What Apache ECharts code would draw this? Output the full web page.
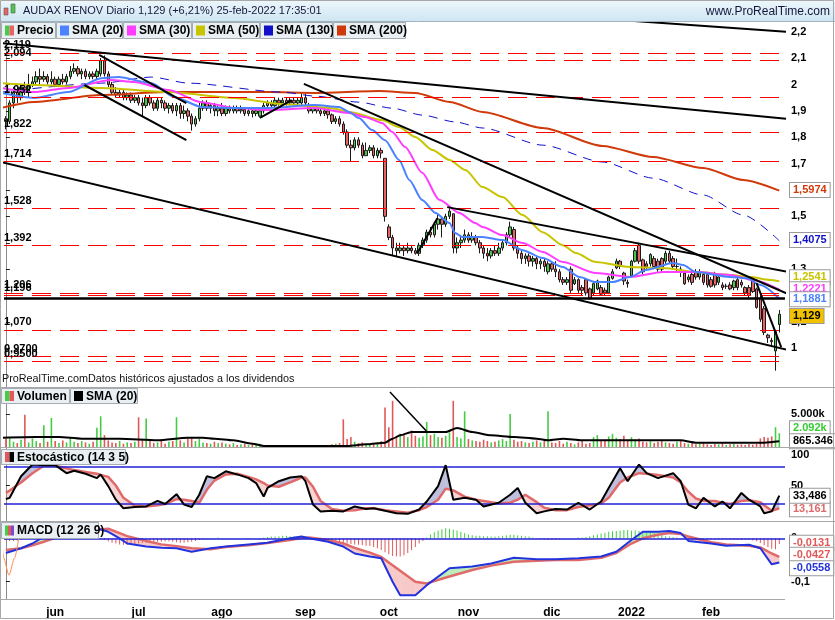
<!DOCTYPE html>
<html><head><meta charset="utf-8">
<script src="https://cdn.jsdelivr.net/npm/echarts@6/dist/echarts.min.js"></script>
<style>html,body{margin:0;padding:0;background:#fff}#c{width:835px;height:620px}</style>
</head><body><div id="c"></div>
<script>
// ---------------- DATA ----------------
const START_DATE = '2021-05-13', END_DATE = '2022-02-25';
const HOLIDAYS = ['2021-12-24', '2021-12-31'];
const MONTHS = ['ene','feb','mar','abr','may','jun','jul','ago','sep','oct','nov','dic'];

const opens = [
1.87,1.86,1.93,1.97,1.95,1.99,1.97,2.00,2.01,2.03,
2.02,2.03,2.01,2.02,2.00,2.02,2.01,2.03,2.05,2.06,
2.04,2.05,2.03,2.04,2.03,2.04,2.09,2.04,2.00,1.97,
1.96,1.97,1.95,1.96,1.94,1.95,1.93,1.92,1.95,1.93,
1.91,1.94,1.93,1.91,1.92,1.90,1.92,1.89,1.90,1.88,
1.85,1.87,1.91,1.93,1.91,1.92,1.90,1.91,1.89,1.91,
1.90,1.91,1.90,1.905,1.89,1.90,1.89,1.88,1.90,1.92,
1.93,1.92,1.94,1.93,1.94,1.93,1.94,1.93,1.93,1.95,
1.92,1.90,1.91,1.90,1.89,1.90,1.885,1.86,1.87,1.85,
1.82,1.77,1.76,1.79,1.77,1.73,1.75,1.76,1.73,1.75,
1.72,1.46,1.42,1.38,1.37,1.38,1.37,1.38,1.37,1.36,
1.39,1.41,1.44,1.43,1.47,1.49,1.47,1.50,1.51,1.38,
1.40,1.41,1.43,1.41,1.42,1.40,1.38,1.36,1.35,1.37,
1.36,1.38,1.40,1.43,1.45,1.38,1.36,1.34,1.35,1.33,
1.34,1.32,1.33,1.29,1.32,1.30,1.29,1.26,1.25,1.30,
1.245,1.26,1.23,1.26,1.225,1.21,1.225,1.23,1.22,1.21,
1.265,1.305,1.33,1.285,1.25,1.275,1.33,1.39,1.335,1.32,
1.32,1.34,1.33,1.34,1.33,1.36,1.34,1.31,1.30,1.285,
1.26,1.28,1.29,1.27,1.28,1.28,1.26,1.28,1.25,1.24,
1.235,1.24,1.23,1.26,1.25,1.23,1.23,1.255,1.225,1.19,
1.15,1.05,1.03,0.99,1.09];
const closes = [
1.86,1.93,1.97,1.95,1.99,1.97,2.00,2.01,2.03,2.02,
2.03,2.01,2.02,2.00,2.02,2.01,2.03,2.05,2.06,2.04,
2.05,2.03,2.04,2.03,2.05,2.09,2.04,2.00,1.97,1.96,
1.97,1.95,1.96,1.94,1.95,1.93,1.92,1.95,1.93,1.91,
1.94,1.93,1.91,1.92,1.90,1.92,1.89,1.90,1.88,1.85,
1.87,1.91,1.93,1.91,1.92,1.90,1.91,1.89,1.91,1.90,
1.91,1.90,1.905,1.89,1.90,1.89,1.90,1.90,1.92,1.93,
1.92,1.94,1.93,1.94,1.93,1.94,1.93,1.94,1.95,1.93,
1.90,1.91,1.90,1.89,1.90,1.885,1.86,1.87,1.85,1.82,
1.77,1.76,1.79,1.77,1.73,1.75,1.76,1.73,1.75,1.74,
1.50,1.42,1.38,1.37,1.38,1.37,1.38,1.37,1.36,1.39,
1.41,1.44,1.43,1.47,1.49,1.47,1.50,1.52,1.38,1.40,
1.41,1.43,1.41,1.42,1.40,1.38,1.36,1.35,1.37,1.36,
1.38,1.40,1.43,1.46,1.38,1.36,1.34,1.35,1.33,1.34,
1.32,1.33,1.31,1.32,1.30,1.29,1.26,1.25,1.26,1.22,
1.26,1.22,1.22,1.21,1.19,1.245,1.255,1.205,1.21,1.27,
1.29,1.33,1.31,1.255,1.245,1.33,1.37,1.33,1.29,1.31,
1.355,1.31,1.30,1.30,1.36,1.33,1.31,1.31,1.29,1.245,
1.27,1.25,1.27,1.29,1.25,1.24,1.235,1.24,1.27,1.23,
1.235,1.225,1.255,1.23,1.24,1.21,1.20,1.215,1.155,1.11,
1.06,1.04,1.025,1.063,1.129];
const lows = [
1.83,1.85,1.91,1.93,1.94,1.96,1.95,1.99,2.00,2.00,
2.01,2.00,2.00,1.99,1.99,2.00,2.00,2.02,2.04,2.03,
2.02,2.02,2.02,2.02,2.02,2.03,2.03,1.99,1.96,1.95,
1.95,1.94,1.94,1.93,1.93,1.92,1.88,1.91,1.92,1.90,
1.90,1.91,1.90,1.89,1.89,1.88,1.87,1.87,1.86,1.825,
1.84,1.86,1.90,1.90,1.89,1.88,1.88,1.88,1.88,1.89,
1.89,1.89,1.89,1.88,1.88,1.875,1.88,1.875,1.89,1.91,
1.91,1.91,1.92,1.92,1.92,1.92,1.92,1.92,1.92,1.92,
1.89,1.89,1.89,1.88,1.88,1.87,1.85,1.85,1.84,1.81,
1.76,1.71,1.75,1.76,1.72,1.73,1.74,1.72,1.72,1.72,
1.48,1.41,1.35,1.35,1.36,1.35,1.36,1.36,1.355,1.35,
1.38,1.40,1.42,1.42,1.45,1.42,1.46,1.49,1.36,1.36,
1.38,1.40,1.40,1.40,1.39,1.36,1.34,1.33,1.34,1.35,
1.35,1.37,1.39,1.42,1.37,1.34,1.32,1.32,1.31,1.31,
1.30,1.30,1.29,1.28,1.29,1.27,1.25,1.24,1.24,1.21,
1.24,1.21,1.20,1.20,1.185,1.20,1.22,1.20,1.20,1.205,
1.26,1.30,1.30,1.24,1.23,1.27,1.325,1.32,1.28,1.30,
1.31,1.30,1.29,1.29,1.32,1.32,1.30,1.29,1.27,1.24,
1.25,1.24,1.26,1.26,1.24,1.23,1.23,1.23,1.24,1.22,
1.225,1.22,1.22,1.22,1.23,1.20,1.19,1.21,1.15,1.10,
1.05,1.02,1.01,0.915,1.06];
const highs = [
1.88,1.94,1.99,1.99,2.00,2.01,2.04,2.03,2.05,2.06,
2.05,2.04,2.05,2.03,2.03,2.04,2.04,2.07,2.08,2.07,
2.06,2.06,2.05,2.05,2.06,2.10,2.11,2.05,2.01,1.99,
1.98,1.98,1.97,1.97,1.96,1.96,1.95,1.96,1.96,1.94,
1.95,1.95,1.94,1.93,1.93,1.93,1.93,1.92,1.91,1.89,
1.88,1.93,1.94,1.94,1.93,1.93,1.92,1.93,1.92,1.92,
1.92,1.92,1.92,1.91,1.91,1.91,1.91,1.91,1.93,1.94,
1.94,1.95,1.95,1.95,1.95,1.95,1.95,1.95,1.97,1.965,
1.93,1.92,1.92,1.91,1.91,1.91,1.89,1.88,1.88,1.86,
1.83,1.79,1.80,1.80,1.78,1.78,1.77,1.77,1.76,1.76,
1.72,1.47,1.43,1.40,1.40,1.39,1.40,1.39,1.38,1.40,
1.42,1.45,1.46,1.48,1.51,1.50,1.51,1.53,1.51,1.42,
1.43,1.45,1.44,1.44,1.43,1.41,1.39,1.38,1.38,1.39,
1.40,1.41,1.44,1.48,1.46,1.39,1.37,1.36,1.36,1.35,
1.35,1.34,1.34,1.33,1.33,1.33,1.30,1.27,1.27,1.31,
1.27,1.265,1.24,1.265,1.23,1.25,1.26,1.24,1.23,1.275,
1.30,1.34,1.335,1.29,1.26,1.335,1.38,1.40,1.34,1.33,
1.36,1.35,1.34,1.345,1.37,1.37,1.35,1.34,1.31,1.29,
1.28,1.29,1.30,1.30,1.29,1.29,1.27,1.29,1.28,1.25,
1.245,1.25,1.26,1.27,1.26,1.235,1.24,1.26,1.23,1.20,
1.16,1.055,1.04,1.07,1.145];

// volume in thousands
const volumes = [
1200,1500,800,600,1100,4900,700,1300,900,600,3300,800,4400,
900,600,1000,700,1500,800,600,900,700,500,800,2900,4650,
1800,1000,700,600,900,500,700,600,800,
4500,1200,4300,900,600,700,1100,500,800,900,4500,1000,700,1300,1500,
900,1200,700,600,500,800,600,700,500,400,600,300,400,500,300,400,300,500,
200,300,150,200,150,300,200,150,200,150,250,300,200,150,250,200,150,300,400,500,600,
4200,1200,1500,800,600,700,500,400,600,700,900,
6000,3000,7000,1500,2000,1800,1500,2500,1700,1400,1600,
3800,1800,2000,1500,1400,1700,2200,7000,1500,1300,5400,
1200,1000,900,800,1100,900,700,800,1000,1200,900,5000,1100,800,900,700,600,800,1000,700,900,5400,
700,600,900,500,800,600,400,700,900,500,600,1500,1800,900,1100,1600,2000,1400,1200,1700,900,
1500,1100,1300,800,700,900,600,800,1000,700,
600,500,800,900,600,500,700,400,500,600,
400,300,500,400,600,300,400,500,350,400,
300,450,350,500,
1300,1500,1400,1600,3000,2092];
const volumeSma = [[-1,1414],[8,1515],[14,1515],[20,1262],[30,1262],[40,1010],[48,1414],[52,1414],[55,1262],[60,1010],[65,505],[68,152],[90,152],[95,400],[100,656],[102,1262],[104,1767],[107,2272],[116,2272],[119,2878],[123,2272],[128,1767],[134,1515],[140,1262],[143,1010],[147,1262],[152,1010],[178,1010],[182,656],[200,656],[204,865]];

// moving averages: [day index, value]
const sma20 = [[-1.3,1.968],[7.4,1.949],[16.4,1.971],[25.2,2.024],[29.7,2.028],[38.4,2.005],[44.5,1.952],[51.6,1.915],[60.3,1.911],[69.3,1.911],[81.5,1.922],[87.9,1.915],[90.5,1.896],[93.1,1.873],[96.6,1.827],[100,1.789],[103.7,1.714],[106.4,1.638],[109.8,1.562],[113.3,1.513],[117,1.475],[118.5,1.437],[120.4,1.422],[125.7,1.422],[131,1.41],[136.3,1.372],[141.6,1.342],[146.9,1.308],[151.3,1.27],[155.6,1.251],[160.1,1.251],[164.6,1.27],[168.8,1.297],[176,1.323],[178.6,1.316],[182,1.289],[191,1.27],[195.3,1.266],[199,1.24],[204,1.1881]];
const sma30 = [[-1.3,1.987],[7.4,1.971],[16.4,1.987],[27.8,2.017],[33.9,2.009],[42.9,1.979],[51.6,1.933],[60.3,1.911],[69.3,1.903],[81.5,1.911],[90.5,1.892],[94.7,1.877],[99.2,1.854],[101.9,1.82],[105.3,1.763],[109.8,1.665],[114.3,1.563],[119.6,1.513],[123.8,1.475],[125.7,1.46],[131,1.429],[136.3,1.399],[141.6,1.365],[146.9,1.327],[155.6,1.285],[164.6,1.27],[173.3,1.289],[182,1.289],[191,1.278],[197.1,1.259],[204,1.2221]];
const sma50 = [[-1.3,2.005],[7.4,1.998],[25.2,1.987],[42.9,1.971],[60.3,1.949],[72.8,1.926],[86,1.91],[90.5,1.896],[99.2,1.865],[103.7,1.839],[108,1.801],[112.5,1.752],[117,1.714],[121.2,1.676],[125.7,1.611],[131,1.573],[136.3,1.505],[141.6,1.44],[146.9,1.391],[150.3,1.361],[155.6,1.327],[164.6,1.308],[173.3,1.304],[182,1.289],[191,1.278],[196.3,1.27],[201.6,1.259],[204,1.2541]];
const sma130 = [[-1.3,1.971],[25.2,2.005],[38.4,2.028],[48.2,2.005],[72.8,1.971],[81.5,1.956],[93.1,1.933],[101.9,1.91],[109.8,1.884],[118.5,1.858],[125.7,1.835],[141.6,1.77],[157.4,1.706],[170.7,1.645],[183.9,1.581],[194.5,1.505],[204,1.4075]];
const sma200 = [[-1.3,1.911],[7.4,1.934],[25.2,1.96],[42.9,1.971],[69.3,1.971],[81.5,1.968],[98.4,1.975],[108,1.968],[117,1.934],[125.7,1.896],[141.6,1.835],[157.4,1.767],[170.7,1.725],[183.9,1.683],[194.5,1.638],[204,1.5974]];

// horizontal levels (red dashed) and their labels
const levels = [2.119, 2.094, 1.952, 1.822, 1.714, 1.528, 1.392, 1.206, 1.196, 1.070, 0.9700, 0.9500];
const levelLabels = ['2,119','2,094','1,952','1,822','1,714','1,528','1,392','1,206','1,196','1,070','0,9700','0,9500'];
const supportLevel = 1.188;

// drawn trend lines: [[day index, price],[day index, price]]
const trendLines = [
  [[-1.3,2.157],[206.4,1.869]],
  [[157.4,2.249],[206.4,2.199]],
  [[-1.3,1.706],[206.4,0.993]],
  [[78.6,2.002],[206.4,1.205]],
  [[116.4,1.535],[206.4,1.289]],
  [[24.6,2.112],[47.6,1.929]],
  [[20.7,1.998],[47.6,1.789]],
  [[67,1.873],[75.4,1.941]],
  [[108.5,1.36],[113.8,1.493]],
  [[198,1.247],[204.5,1.004]]
];
const volumeTrend = [[101.3,8333],[110.9,2424]];

// Stochastic (14 3 5)
const stochIdx = [0,1,4,7,10,13,16,18,21,24,25,27,29,31,34,37,40,42,45,47,49,51,53,55,58,61,64,66,68,69,72,75,78,79,81,83,86,89,92,95,97,100,103,106,109,111,114,116,118,121,124,126,130,133,135,137,140,142,145,148,151,154,157,159,162,164,167,169,172,176,178,180,182,184,187,189,191,194,196,199,200,202,204];
const stochK = [28,30,65,84,83,83,70,74,69,62,68,49,27,13,15,16,25,20,36,19,15,35,65,62,73,68,62,54,32,46,57,63,65,57,19,8,9,8,16,12,13,9,5,4,11,24,49,83,27,30,27,16,22,35,46,22,5,8,12,11,22,11,24,46,78,57,84,70,62,70,57,19,13,30,16,24,13,38,27,16,5,8,33.486];
const stochD = [38,42,55,70,82,82,78,75,72,69,67,64,50,30,17,16,18,20,28,27,25,22,43,58,68,69,64,60,54,50,48,55,63,63,48,25,12,9,10,13,13,10,8,6,10,15,27,45,42,32,27,25,21,22,27,35,23,14,10,10,15,18,21,30,55,63,70,69,67,63,55,40,29,25,25,22,20,25,26,23,18,9,13.161];

// MACD (12 26 9)
const macdIdx = [0,4,7,10,13,18,24,27,30,32,37,41,45,49,54,58,64,69,75,78,80,85,89,92,96,99,102,104,108,111,117,123,128,134,140,145,151,157,161,165,168,172,175,178,180,186,190,196,199,202,204];
const macdLine = [-0.034,-0.023,-0.012,0.004,0.012,0.019,0.023,0.015,0.0,-0.012,-0.019,-0.022,-0.023,-0.031,-0.023,-0.019,-0.014,-0.010,0.0,0.004,0.0,-0.008,-0.019,-0.035,-0.042,-0.046,-0.100,-0.131,-0.131,-0.108,-0.069,-0.065,-0.058,-0.045,-0.048,-0.048,-0.046,-0.042,-0.031,-0.004,0.015,0.015,0.017,0.012,-0.006,-0.012,-0.017,-0.015,-0.023,-0.060,-0.0558];
const macdSignal = [-0.027,-0.023,-0.016,-0.008,0.001,0.013,0.020,0.022,0.012,0.005,-0.006,-0.014,-0.018,-0.023,-0.025,-0.020,-0.016,-0.011,-0.004,0.001,0.002,-0.004,-0.012,-0.022,-0.033,-0.043,-0.062,-0.075,-0.100,-0.104,-0.088,-0.073,-0.063,-0.054,-0.052,-0.050,-0.050,-0.045,-0.034,-0.012,0.000,0.008,0.012,0.010,0.004,-0.009,-0.014,-0.017,-0.021,-0.035,-0.0427];
const macdHist = [
-0.004,-0.006,-0.006,-0.005,-0.003,-0.001,
0.002,0.004,0.006,0.008,0.010,0.011,0.011,0.010,0.009,0.008,0.007,0.006,0.005,0.005,0.004,0.003,0.002,0.001,0.000,-0.002,
-0.004,-0.007,-0.010,-0.012,-0.014,-0.015,-0.015,-0.014,-0.013,-0.012,-0.011,-0.010,-0.009,-0.009,-0.008,-0.008,-0.007,-0.007,-0.008,-0.009,-0.010,-0.010,-0.009,-0.008,
-0.006,-0.004,-0.002,0.000,0.001,0.001,0.002,0.001,0.001,0.001,0.001,0.000,0.000,0.001,0.001,0.000,0.000,0.001,0.002,
0.003,0.004,0.004,0.005,0.006,0.006,0.005,0.005,0.004,0.003,0.001,
-0.001,-0.003,-0.004,-0.005,-0.006,-0.007,-0.008,-0.009,-0.010,-0.011,-0.012,-0.013,-0.014,-0.015,-0.016,-0.017,-0.018,
-0.020,-0.023,-0.027,-0.032,-0.037,-0.041,-0.042,-0.042,-0.039,-0.034,-0.027,-0.020,-0.012,-0.006,
0.002,0.009,0.014,0.018,0.021,0.023,0.022,0.020,0.018,0.015,0.012,0.009,
0.007,0.006,0.006,0.005,0.005,0.004,0.004,0.005,0.006,0.007,0.008,0.008,0.007,0.006,0.005,0.004,0.002,
-0.001,-0.002,-0.003,-0.004,-0.004,-0.003,-0.002,-0.001,0.000,0.001,0.001,0.002,0.002,0.003,
0.005,0.007,0.009,0.011,0.013,0.015,0.016,0.017,0.018,0.019,0.019,0.018,0.018,0.017,0.017,0.016,0.014,0.012,0.010,0.007,
0.005,0.004,0.003,0.002,0.001,0.000,
-0.002,-0.003,-0.003,-0.004,-0.004,-0.004,-0.003,-0.003,-0.003,-0.002,-0.002,-0.002,-0.003,-0.003,-0.004,-0.003,-0.003,-0.005,
-0.007,-0.011,-0.016,-0.020,-0.024,-0.025,-0.0131];
const macdArc = [[-1.3,0.012],[-0.6,-0.045],[0.8,-0.085],[2.3,-0.045],[3.6,0.012]];

// ---------------- BUILD ----------------
const FONT = 'Liberation Sans, Arial, sans-serif';
function buildDates() {
  const out = []; const d = new Date(START_DATE + 'T00:00:00Z'); const end = new Date(END_DATE + 'T00:00:00Z');
  while (d <= end) {
    const wd = d.getUTCDay(); const s = d.toISOString().slice(0, 10);
    if (wd !== 0 && wd !== 6 && HOLIDAYS.indexOf(s) < 0) out.push(s);
    d.setUTCDate(d.getUTCDate() + 1);
  }
  return out;
}
const dates = buildDates();
const NCAT = dates.length + 1;
const cats = dates.concat(['x1']);
const XMIN = -0.5, XMAX = NCAT - 0.5;

const PMIN = 0.8532, PMAX = 2.2368;
const GL = 4, GW = 781;
const GRID = [
  {left: GL, top: 22, width: GW, height: 365},
  {left: GL, top: 388, width: GW, height: 59},
  {left: GL, top: 447, width: GW, height: 74},
  {left: GL, top: 521, width: GW, height: 78}
];
const UP = '#4CC94C', DOWN = '#E86464';

const candleData = opens.map((o, i) => [o, closes[i], lows[i], highs[i]]);
const volData = volumes.map((v, i) => ({value: v, itemStyle: {color: closes[i] >= opens[i] ? '#44CC44' : '#E05858'}}));
const histData = macdHist.map(v => ({value: v, itemStyle: {color: v >= 0 ? '#44CC44' : '#E05858'}}));

function monthLabel(s) {
  const y = s.slice(0, 4), m = +s.slice(5, 7);
  return m === 1 ? y : MONTHS[m - 1];
}
function isMonthStart(i) {
  if (i <= 0 || i >= dates.length) return false;
  return dates[i].slice(5, 7) !== dates[i - 1].slice(5, 7);
}

function box(value, text, color, bg, dy) {
  return {yAxis: value, lineStyle: {color: 'rgba(0,0,0,0)', width: 0.01},
    label: {show: true, position: 'end', formatter: text, color: color, backgroundColor: bg || '#fff',
      borderColor: '#9a9a9a', borderWidth: 1, padding: [2, 3, 1, 3], fontWeight: 'bold', fontSize: 11,
      fontFamily: FONT, distance: 5, offset: [0, dy || 0]}};
}
function boxesMarkLine(items) {
  return {silent: true, symbol: ['none', 'none'], animation: false, data: items};
}
function line(name, data, color, width, type, xi, yi, z, smooth) {
  return {type: 'line', name, xAxisIndex: xi, yAxisIndex: yi, data, symbol: 'none', showSymbol: false,
    smooth: smooth ? 0.25 : false, smoothMonotone: 'x', lineStyle: {color, width, type: type || 'solid'},
    z: z || 3, silent: true, animation: false, clip: true};
}
function fillSeries(xi, yi, idx, A, B, upColor, downColor) {
  const segs = [];
  for (let j = 0; j < idx.length - 1; j++) segs.push([j]);
  return {type: 'custom', xAxisIndex: xi, yAxisIndex: yi, silent: true, z: 2, clip: true, animation: false,
    data: segs, encode: {x: -1, y: -1},
    renderItem(params, api) {
      const j = segs[params.dataIndex][0];
      const x0 = idx[j], x1 = idx[j + 1], a0 = A[j], a1 = A[j + 1], b0 = B[j], b1 = B[j + 1];
      const d0 = a0 - b0, d1 = a1 - b1;
      const ch = [];
      const poly = (pts, c) => ch.push({type: 'polygon', shape: {points: pts.map(p => api.coord(p))}, style: {fill: c}});
      if (d0 * d1 >= 0) {
        poly([[x0, a0], [x1, a1], [x1, b1], [x0, b0]], (d0 + d1) >= 0 ? upColor : downColor);
      } else {
        const t = d0 / (d0 - d1), xc = x0 + t * (x1 - x0), yc = a0 + t * (a1 - a0);
        poly([[x0, a0], [xc, yc], [x0, b0]], d0 > 0 ? upColor : downColor);
        poly([[xc, yc], [x1, a1], [x1, b1]], d1 > 0 ? upColor : downColor);
      }
      return {type: 'group', children: ch};
    }};
}

const xAxes = [];
for (let g = 0; g < 4; g++) {
  xAxes.push({type: 'category', gridIndex: g, data: cats, boundaryGap: true,
    axisLine: {show: false}, axisTick: {show: false}, splitLine: {show: false},
    axisLabel: g === 3 ? {show: true, interval: (i) => isMonthStart(i), formatter: (v) => monthLabel(v),
      color: '#000', fontWeight: 'bold', fontSize: 12, fontFamily: FONT, margin: 8} : {show: false}});
}
for (let g = 0; g < 4; g++) {
  xAxes.push({type: 'value', gridIndex: g, min: XMIN, max: XMAX, show: false});
}
const axisCommon = {position: 'right', axisLine: {show: true, lineStyle: {color: '#8c8c8c', width: 1}},
  splitLine: {show: false}};
const labelStyle = {color: '#000', fontWeight: 'bold', fontSize: 11, fontFamily: FONT, margin: 6};
const priceTicks = [1, 1.1, 1.2, 1.3, 1.4, 1.5, 1.6, 1.7, 1.8, 1.9, 2, 2.1, 2.2];
const yAxes = [
  Object.assign({type: 'value', gridIndex: 0, min: PMIN, max: PMAX,
    axisTick: {show: true, length: 4, lineStyle: {color: '#222'}, customValues: priceTicks},
    axisLabel: Object.assign({customValues: priceTicks, formatter: v => String(Math.round(v * 10) / 10).replace('.', ',')}, labelStyle)}, axisCommon),
  Object.assign({type: 'value', gridIndex: 1, min: 0, max: 8939,
    axisTick: {show: true, length: 4, lineStyle: {color: '#222'}, customValues: [5000]},
    axisLabel: Object.assign({customValues: [5000], formatter: () => '5.000k'}, labelStyle)}, axisCommon),
  Object.assign({type: 'value', gridIndex: 2, min: -7.6, max: 112.5,
    axisTick: {show: true, length: 4, lineStyle: {color: '#222'}, customValues: [50, 100]},
    axisLabel: Object.assign({customValues: [50, 100]}, labelStyle)}, axisCommon),
  Object.assign({type: 'value', gridIndex: 3, min: -0.1399, max: 0.0399,
    axisTick: {show: true, length: 4, lineStyle: {color: '#222'}, customValues: [-0.1, 0]},
    axisLabel: Object.assign({customValues: [-0.1, 0], formatter: v => (v === 0 ? '0' : String(v).replace('.', ','))}, labelStyle)}, axisCommon)
];

const levelLines = levels.map((v, k) => ({yAxis: v,
  label: {show: true, position: 'insideStartTop', formatter: levelLabels[k], color: '#000', fontWeight: 'bold',
    fontSize: 11, fontFamily: FONT, distance: [0, 2]}}));

const series = [];
series.push({type: 'candlestick', name: 'Precio', xAxisIndex: 0, yAxisIndex: 0, data: candleData, barWidth: 3, z: 2,
  itemStyle: {color: UP, color0: DOWN, borderColor: '#1a1a1a', borderColor0: '#1a1a1a', borderWidth: 1},
  silent: true, animation: false,
  markLine: {silent: true, symbol: ['none', 'none'], animation: false,
    lineStyle: {color: '#FF0000', width: 1, type: [19, 9]},
    data: levelLines.concat([{yAxis: supportLevel, label: {show: false}, lineStyle: {color: '#000', width: 2.5, type: 'solid'}}])}});
trendLines.forEach((t, k) => series.push(line('t' + k, t, '#000', 2, 'solid', 4, 0, 5)));
series.push(Object.assign(line('SMA (200)', sma200, '#D03A0A', 2, 'solid', 4, 0, 4, true),
  {markLine: boxesMarkLine([box(1.5974, '1,5974', '#D03A0A')])}));
series.push(Object.assign(line('SMA (130)', sma130, '#1010C8', 1, [9, 7], 4, 0, 4, true),
  {markLine: boxesMarkLine([box(1.4075, '1,4075', '#1010C8')])}));
series.push(Object.assign(line('SMA (50)', sma50, '#C8C400', 2, 'solid', 4, 0, 4, true),
  {markLine: boxesMarkLine([box(1.2541, '1,2541', '#C8C400', '#fff', -5)])}));
series.push(Object.assign(line('SMA (30)', sma30, '#FF3CFF', 2, 'solid', 4, 0, 4.3, true),
  {markLine: boxesMarkLine([box(1.2221, '1,2221', '#FF3CFF', '#fff', -1)])}));
series.push(Object.assign(line('SMA (20)', sma20, '#4B82FF', 2, 'solid', 4, 0, 4.6, true),
  {markLine: boxesMarkLine([box(1.1881, '1,1881', '#4B82FF', '#fff', 1), box(1.129, '1,129', '#000', '#F2C200', 2)])}));

// volume
series.push({type: 'bar', name: 'Volumen', xAxisIndex: 1, yAxisIndex: 1, data: volData, barWidth: 1.6, silent: true, animation: false, z: 2});
series.push(Object.assign(line('vsma', volumeSma, '#000', 2, 'solid', 5, 1, 4, true),
  {markLine: boxesMarkLine([box(2092, '2.092k', '#33CC33', '#fff', -5), box(865.346, '865.346', '#000', '#fff', 0)])}));
series.push(line('vtrend', volumeTrend, '#000', 1.5, 'solid', 5, 1, 5));

// stochastic
series.push(fillSeries(6, 2, stochIdx, stochK, stochD, 'rgba(110,110,180,0.45)', 'rgba(235,130,130,0.35)'));
series.push(Object.assign(line('stD', stochIdx.map((x, j) => [x, stochD[j]]), '#E06A6A', 2.5, 'solid', 6, 2, 4, false),
  {markLine: boxesMarkLine([box(13.161, '13,161', '#E06A6A', '#fff', 1)])}));
series.push(Object.assign(line('stK', stochIdx.map((x, j) => [x, stochK[j]]), '#000', 2, 'solid', 6, 2, 5, false),
  {markLine: {silent: true, symbol: ['none', 'none'], animation: false,
    data: [{yAxis: 80, lineStyle: {color: '#2020D8', width: 1.5, type: 'solid'}, label: {show: false}},
           {yAxis: 20, lineStyle: {color: '#2020D8', width: 1.5, type: 'solid'}, label: {show: false}},
           box(33.486, '33,486', '#000', '#fff', 0)]}}));

// MACD
series.push({type: 'bar', name: 'hist', xAxisIndex: 3, yAxisIndex: 3, data: histData, barWidth: 1, silent: true, animation: false, z: 1,
  markLine: {silent: true, symbol: ['none', 'none'], animation: false,
    data: [{yAxis: 0, lineStyle: {color: '#2020D8', width: 1.5, type: 'solid'}, label: {show: false}},
           box(-0.0131, '-0,0131', '#E05858', '#fff', 0)]}});
series.push(fillSeries(7, 3, macdIdx, macdLine, macdSignal, 'rgba(120,220,120,0.5)', 'rgba(235,120,120,0.4)'));
series.push(Object.assign(line('signal', macdIdx.map((x, j) => [x, macdSignal[j]]), '#E06A6A', 2.5, 'solid', 7, 3, 4, false),
  {markLine: boxesMarkLine([box(-0.0427, '-0,0427', '#E05858', '#fff', -1)])}));
series.push(Object.assign(line('macd', macdIdx.map((x, j) => [x, macdLine[j]]), '#2233DD', 2, 'solid', 7, 3, 5, false),
  {markLine: boxesMarkLine([box(-0.0558, '-0,0558', '#2233DD', '#fff', 4)])}));
series.push(line('arc', macdArc, '#FF8C50', 1, 'solid', 7, 3, 5, true));

// ---------------- DECOR ----------------
function legendBox(x, w, y, h, label, colors) {
  const els = [{type: 'rect', shape: {x: x + 0.5, y: y + 0.5, width: w, height: h}, style: {fill: '#e9eff3', stroke: '#a4adb3', lineWidth: 1}}];
  const iw = 9, cw = iw / colors.length;
  colors.forEach((c, k) => els.push({type: 'rect', shape: {x: x + 4 + k * cw, y: y + (h - 10) / 2 + 0.5, width: cw, height: 10}, style: {fill: c}}));
  els.push({type: 'text', x: x + 16, y: y + h / 2 + 1, style: {text: label, fill: '#000', font: 'bold 12px ' + FONT, textVerticalAlign: 'middle'}});
  return els;
}
const graphics = [
  {type: 'rect', shape: {x: 0, y: 0, width: 835, height: 21},
    style: {fill: new echarts.graphic.LinearGradient(0, 0, 0, 1, [{offset: 0, color: '#edf7fc'}, {offset: 1, color: '#cfe6f2'}])}},
  {type: 'line', shape: {x1: 0, y1: 21.5, x2: 835, y2: 21.5}, style: {stroke: '#9fb3c0', lineWidth: 1}},
  {type: 'rect', shape: {x: 4, y: 8, width: 4, height: 7}, style: {fill: '#E86464', stroke: '#555', lineWidth: 0.6}},
  {type: 'rect', shape: {x: 11, y: 4, width: 4, height: 9}, style: {fill: '#4CC94C', stroke: '#555', lineWidth: 0.6}},
  {type: 'text', x: 23, y: 11, style: {text: 'AUDAX RENOV Diario 1,129 (+6,21%) 25-feb-2022 17:35:01', fill: '#16163c', font: '11px ' + FONT, textVerticalAlign: 'middle'}},
  {type: 'text', x: 830, y: 12, style: {text: 'www.ProRealTime.com', fill: '#16163c', font: '12px ' + FONT, textAlign: 'right', textVerticalAlign: 'middle'}},
  {type: 'text', x: 2, y: 379, style: {text: 'ProRealTime.comDatos históricos ajustados a los dividendos', fill: '#111', font: '10.8px ' + FONT, textVerticalAlign: 'middle'}},
  {type: 'line', shape: {x1: 0, y1: 387.5, x2: 835, y2: 387.5}, style: {stroke: '#a8a8a8', lineWidth: 1}},
  {type: 'line', shape: {x1: 0, y1: 447.5, x2: 835, y2: 447.5}, style: {stroke: '#a8a8a8', lineWidth: 1}},
  {type: 'line', shape: {x1: 0, y1: 521.5, x2: 835, y2: 521.5}, style: {stroke: '#a8a8a8', lineWidth: 1}},
  {type: 'line', shape: {x1: 0, y1: 599.5, x2: 785, y2: 599.5}, style: {stroke: '#a8a8a8', lineWidth: 1}},
  {type: 'rect', shape: {x: 0.5, y: 0.5, width: 833, height: 618}, style: {fill: 'none', stroke: '#a8a8a8', lineWidth: 1}}
].concat(
  legendBox(1, 54, 22, 16, 'Precio', ['#4CC94C', '#E86464']),
  legendBox(56, 66, 22, 16, 'SMA (20)', ['#4B82FF']),
  legendBox(123, 68, 22, 16, 'SMA (30)', ['#FF3CFF']),
  legendBox(192, 67, 22, 16, 'SMA (50)', ['#C8C400']),
  legendBox(260, 72, 22, 16, 'SMA (130)', ['#1010C8']),
  legendBox(333, 72, 22, 16, 'SMA (200)', ['#D03A0A']),
  legendBox(1, 68, 388, 15, 'Volumen', ['#44CC44', '#E05858']),
  legendBox(70, 67, 388, 15, 'SMA (20)', ['#000']),
  legendBox(1, 124, 449, 15, 'Estocástico (14 3 5)', ['#E05858', '#000']),
  legendBox(1, 97, 522, 16, 'MACD (12 26 9)', ['#44CC44', '#E05858', '#7a4ad0'])
);
graphics.forEach(g => { if (g.z === undefined) g.z = 100; });

const chart = echarts.init(document.getElementById('c'), null, {renderer: 'canvas'});
chart.setOption({
  animation: false,
  backgroundColor: '#fff',
  textStyle: {fontFamily: FONT},
  grid: GRID,
  xAxis: xAxes,
  yAxis: yAxes,
  series: series,
  graphic: {elements: graphics}
});
</script></body></html>
